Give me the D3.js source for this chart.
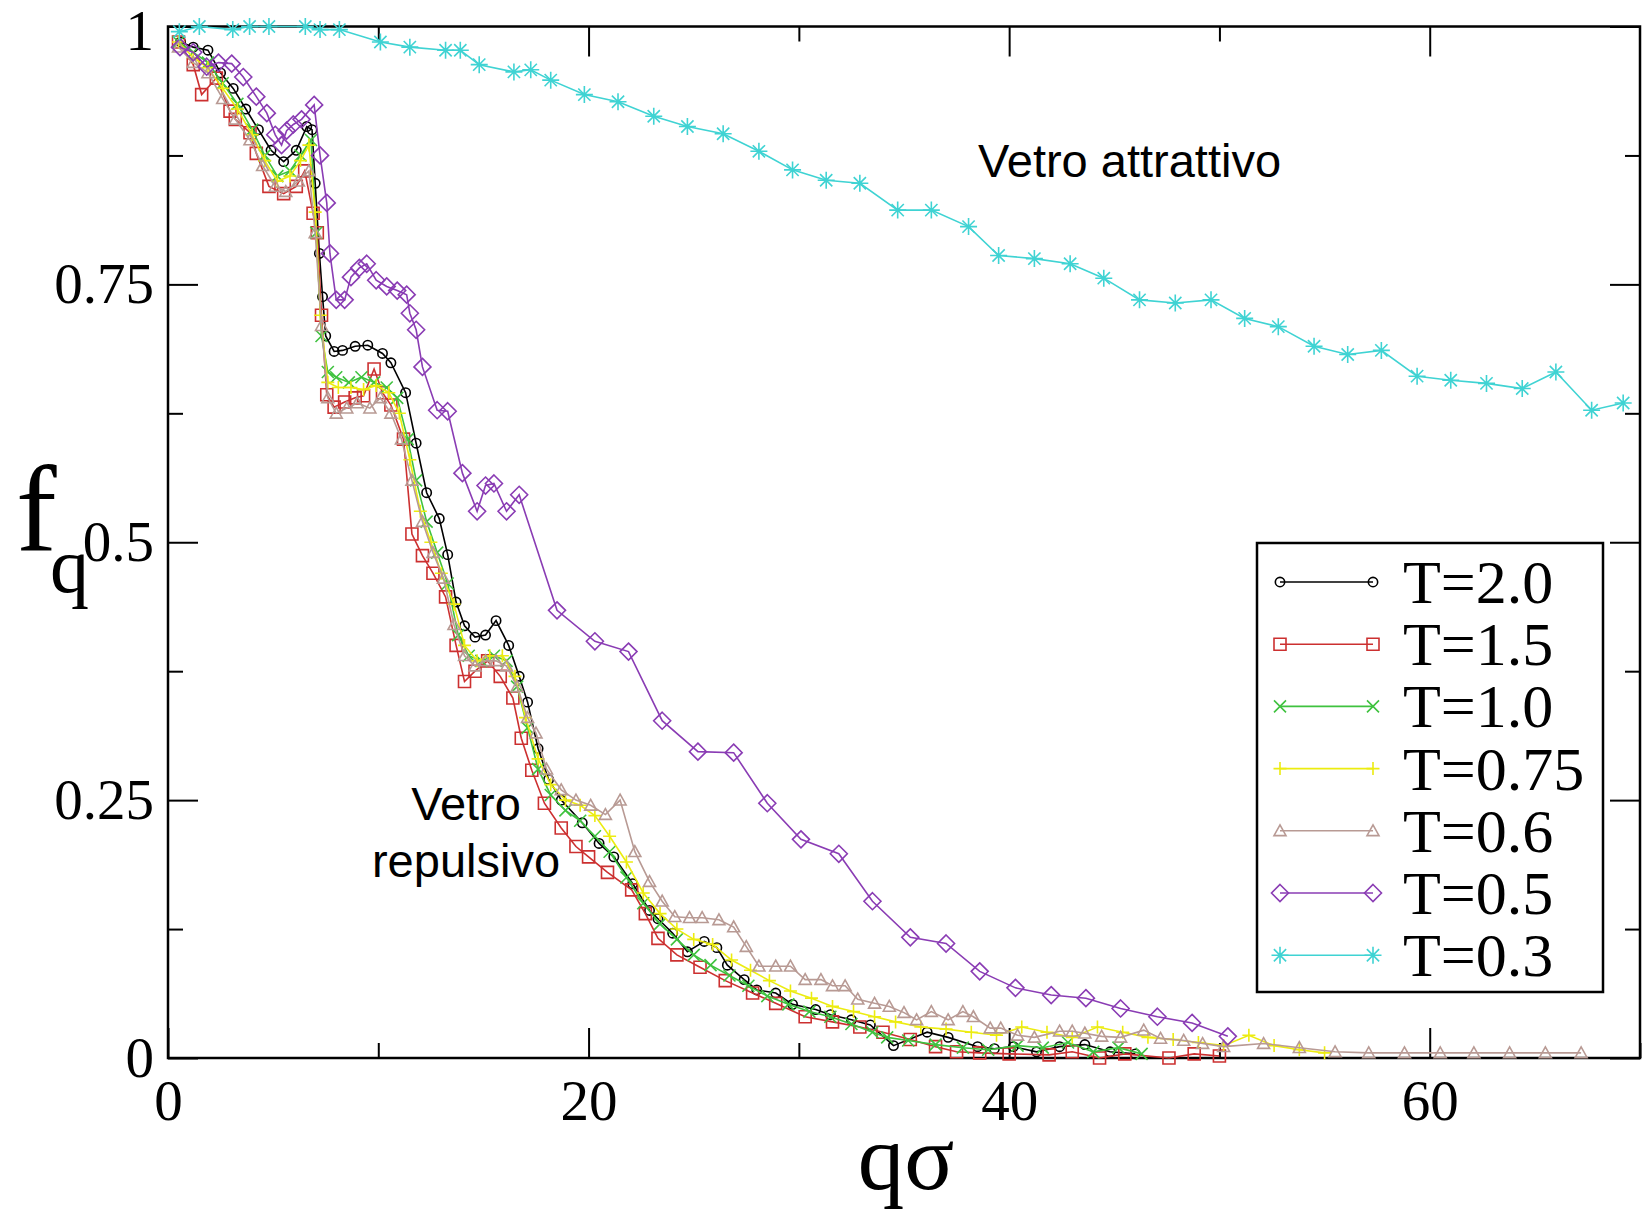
<!DOCTYPE html>
<html>
<head>
<meta charset="utf-8">
<script src="https://cdn.jsdelivr.net/npm/d3@7"></script>
<style>
  body { margin: 0; background: #fff; }
  svg { display: block; }
</style>
</head>
<body>
<div id="chart"></div>
<script>
// f_q vs q*sigma, one array per temperature, [q, f]
const t20 = [[0.6,0.985],[1.2,0.98],[1.9,0.977],[2.5,0.955],[3.1,0.94],[3.7,0.92],[4.3,0.9],[4.9,0.88],[5.5,0.869],[6.1,0.88],[6.6,0.903],[6.85,0.9],[7.0,0.848],[7.2,0.78],[7.35,0.738],[7.5,0.7],[7.9,0.685],[8.3,0.686],[8.9,0.69],[9.5,0.691],[10.2,0.683],[10.6,0.674],[11.3,0.645],[11.8,0.596],[12.3,0.548],[12.9,0.523],[13.3,0.488],[13.7,0.442],[14.1,0.419],[14.6,0.408],[15.1,0.41],[15.6,0.424],[16.2,0.4],[16.7,0.37],[17.1,0.345],[17.6,0.3],[18.1,0.27],[18.7,0.25],[19.7,0.228],[20.5,0.208],[21.2,0.195],[22.1,0.169],[22.9,0.143],[23.3,0.135],[24.0,0.121],[24.7,0.103],[25.5,0.113],[26.1,0.107],[26.6,0.09],[27.4,0.076],[28.0,0.066],[28.9,0.063],[29.7,0.052],[30.8,0.047],[31.5,0.042],[32.5,0.037],[33.4,0.032],[34.5,0.012],[36.1,0.025],[37.1,0.02],[38.5,0.011],[39.3,0.009],[40.2,0.011],[41.3,0.006],[42.4,0.011],[43.6,0.013],[44.8,0.006],[46.0,0.004]];
const t15 = [[0.5,0.985],[1.2,0.963],[1.6,0.934],[2.3,0.95],[2.95,0.918],[3.2,0.91],[3.9,0.897],[4.2,0.877],[4.8,0.845],[5.5,0.838],[6.1,0.845],[6.5,0.86],[6.9,0.819],[7.1,0.8],[7.3,0.72],[7.55,0.643],[7.9,0.631],[8.4,0.636],[8.9,0.64],[9.3,0.642],[9.8,0.668],[10.2,0.645],[10.6,0.633],[11.2,0.6],[11.6,0.508],[12.1,0.487],[12.6,0.47],[13.2,0.447],[13.7,0.4],[14.1,0.365],[14.6,0.375],[15.2,0.385],[15.8,0.37],[16.4,0.349],[16.8,0.31],[17.3,0.279],[17.9,0.247],[18.7,0.223],[19.4,0.205],[20.0,0.195],[20.9,0.18],[22.05,0.163],[22.7,0.14],[23.3,0.116],[24.2,0.1],[25.3,0.088],[26.5,0.075],[27.8,0.063],[28.9,0.053],[30.3,0.04],[31.6,0.035],[32.9,0.03],[34.0,0.025],[35.3,0.018],[36.5,0.011],[37.5,0.006],[38.6,0.005],[40.0,0.004],[41.9,0.003],[43.0,0.006],[44.3,0.0],[45.5,0.004],[47.6,0.0],[48.8,0.004],[50.0,0.002]];
const t10 = [[0.5,0.985],[1.2,0.975],[1.9,0.965],[2.6,0.945],[3.3,0.925],[4.0,0.9],[4.6,0.875],[5.2,0.855],[5.8,0.86],[6.3,0.875],[6.8,0.89],[7.05,0.8],[7.3,0.7],[7.6,0.665],[8.0,0.66],[8.6,0.655],[9.2,0.66],[9.8,0.655],[10.4,0.65],[10.9,0.64],[11.4,0.6],[11.8,0.56],[12.3,0.52],[12.8,0.49],[13.3,0.46],[13.8,0.41],[14.3,0.39],[14.9,0.385],[15.5,0.39],[16.1,0.385],[16.6,0.36],[17.1,0.32],[17.6,0.28],[18.2,0.255],[18.9,0.24],[19.6,0.23],[20.3,0.215],[21.0,0.2],[21.8,0.175],[22.6,0.15],[23.4,0.13],[24.2,0.115],[25.0,0.1],[25.8,0.09],[26.7,0.08],[27.6,0.07],[28.5,0.06],[29.5,0.052],[30.5,0.045],[31.5,0.04],[32.5,0.033],[33.5,0.025],[34.2,0.02],[35.2,0.017],[36.5,0.013],[37.8,0.01],[39.0,0.008],[40.4,0.012],[41.6,0.01],[42.8,0.015],[44.0,0.006],[45.2,0.01],[46.3,0.004]];
const t075 = [[0.5,0.985],[1.2,0.97],[1.9,0.96],[2.6,0.94],[3.3,0.92],[4.0,0.895],[4.6,0.87],[5.2,0.85],[5.8,0.855],[6.3,0.87],[6.7,0.885],[7.0,0.82],[7.25,0.72],[7.6,0.655],[8.1,0.65],[8.7,0.65],[9.3,0.648],[9.9,0.652],[10.5,0.645],[11.0,0.625],[11.5,0.58],[12.0,0.53],[12.5,0.5],[13.0,0.47],[13.6,0.44],[14.1,0.4],[14.7,0.385],[15.3,0.39],[15.9,0.39],[16.5,0.37],[17.0,0.33],[17.6,0.29],[18.2,0.265],[18.9,0.25],[19.6,0.245],[20.3,0.235],[21.0,0.215],[21.8,0.19],[22.6,0.16],[23.4,0.14],[24.2,0.125],[25.0,0.115],[25.9,0.11],[26.8,0.095],[27.7,0.085],[28.6,0.075],[29.6,0.065],[30.6,0.058],[31.6,0.05],[32.6,0.045],[33.6,0.04],[34.6,0.035],[35.8,0.03],[37.0,0.028],[38.2,0.025],[39.4,0.022],[40.6,0.03],[41.8,0.025],[43.0,0.02],[44.2,0.03],[45.4,0.025],[46.6,0.02],[47.8,0.018],[49.0,0.015],[50.2,0.012],[51.4,0.022],[52.6,0.012],[53.8,0.008],[55.0,0.005]];
const t06 = [[0.5,0.98],[1.2,0.965],[1.9,0.955],[2.6,0.93],[3.2,0.91],[3.9,0.89],[4.5,0.865],[5.1,0.845],[5.6,0.84],[6.2,0.85],[6.7,0.86],[7.0,0.8],[7.3,0.71],[7.6,0.64],[8.0,0.625],[8.5,0.63],[9.0,0.635],[9.6,0.63],[10.1,0.64],[10.6,0.625],[11.1,0.6],[11.6,0.56],[12.1,0.52],[12.6,0.49],[13.1,0.465],[13.6,0.42],[14.1,0.39],[14.6,0.38],[15.1,0.385],[15.6,0.385],[16.1,0.38],[16.6,0.36],[17.1,0.33],[17.5,0.315],[18.0,0.28],[18.7,0.26],[19.4,0.25],[20.1,0.245],[20.8,0.236],[21.5,0.25],[22.2,0.2],[22.9,0.171],[23.5,0.152],[24.1,0.137],[24.8,0.136],[25.4,0.136],[26.2,0.134],[26.9,0.127],[27.5,0.108],[28.1,0.089],[28.9,0.089],[29.6,0.089],[30.3,0.076],[31.05,0.076],[31.6,0.07],[32.2,0.07],[32.8,0.057],[33.6,0.053],[34.3,0.05],[35.0,0.044],[35.6,0.037],[36.3,0.045],[37.1,0.037],[37.8,0.045],[38.3,0.04],[39.1,0.029],[39.6,0.029],[40.4,0.022],[41.2,0.02],[42.4,0.026],[43.0,0.026],[43.6,0.024],[44.4,0.021],[45.3,0.02],[46.4,0.027],[47.2,0.019],[48.3,0.017],[49.2,0.014],[50.2,0.011],[52.1,0.014],[53.8,0.01],[55.5,0.006],[57.1,0.005],[58.8,0.005],[60.5,0.005],[62.1,0.005],[63.8,0.005],[65.5,0.005],[67.2,0.005]];
const t05 = [[0.57,0.98],[1.2,0.975],[1.84,0.961],[2.4,0.965],[3.03,0.964],[3.58,0.951],[4.2,0.932],[4.7,0.916],[5.1,0.895],[5.4,0.885],[5.64,0.899],[5.96,0.905],[6.35,0.91],[6.95,0.924],[7.23,0.875],[7.55,0.829],[7.7,0.78],[8.0,0.735],[8.4,0.735],[8.7,0.757],[9.1,0.766],[9.45,0.77],[9.9,0.754],[10.4,0.748],[10.9,0.744],[11.35,0.74],[11.5,0.722],[11.8,0.706],[12.1,0.67],[12.8,0.628],[13.3,0.627],[14.0,0.567],[14.7,0.53],[15.1,0.555],[15.5,0.557],[16.1,0.53],[16.7,0.546],[18.5,0.434],[20.3,0.404],[21.9,0.394],[23.5,0.327],[25.2,0.297],[26.9,0.296],[28.5,0.247],[30.1,0.212],[31.9,0.198],[33.5,0.152],[35.3,0.117],[37.0,0.111],[38.6,0.084],[40.3,0.068],[42.0,0.061],[43.65,0.058],[45.3,0.048],[47.05,0.04],[48.7,0.034],[50.4,0.021]];
const t03 = [[0.54,0.995],[1.49,1.0],[3.08,0.997],[3.88,1.0],[4.8,1.0],[6.53,1.0],[7.23,0.997],[8.15,0.997],[10.1,0.985],[11.5,0.98],[13.2,0.977],[13.9,0.977],[14.8,0.963],[16.45,0.956],[17.25,0.958],[18.2,0.948],[19.8,0.934],[21.4,0.927],[23.1,0.913],[24.7,0.903],[26.4,0.896],[28.1,0.879],[29.7,0.861],[31.3,0.851],[32.9,0.848],[34.7,0.822],[36.3,0.822],[38.07,0.806],[39.5,0.778],[41.2,0.775],[42.9,0.77],[44.5,0.756],[46.2,0.735],[47.9,0.732],[49.6,0.735],[51.2,0.717],[52.8,0.709],[54.5,0.69],[56.1,0.682],[57.7,0.686],[59.4,0.661],[61.0,0.657],[62.7,0.654],[64.4,0.649],[66.0,0.665],[67.7,0.628],[69.2,0.635]];

const seriesLabels = ['T=2.0', 'T=1.5', 'T=1.0', 'T=0.75', 'T=0.6', 'T=0.5', 'T=0.3'];
const seriesData = [t20, t15, t10, t075, t06, t05, t03];
const seriesColors = ['#000000', '#cc3030', '#3fc23f', '#ecec10', '#b89a94', '#8a3cb4', '#3fd3d3'];
const seriesSymbols = ['circle', 'square', 'x', 'plus', 'triangle', 'diamond', 'star'];

const xTicks = [0, 20, 40, 60];
const yTicks = [0, 0.25, 0.5, 0.75, 1];
const yTickLabels = ['0', '0.25', '0.5', '0.75', '1'];

const width = 1642, height = 1212;
const serif = '"Liberation Serif", "Times New Roman", serif';
const sans = '"Liberation Sans", Arial, sans-serif';

const x = d3.scaleLinear().domain([0, 70]).range([168, 1640]);
const y = d3.scaleLinear().domain([0, 1]).range([1058, 26.5]);

const svg = d3.select('#chart').append('svg')
    .attr('width', width)
    .attr('height', height)
    .attr('viewBox', '0 0 ' + width + ' ' + height);

svg.append('rect').attr('width', width).attr('height', height).attr('fill', '#fff');

// marker shapes as path strings centred on 0,0
function markerPath(type, s) {
    const h = s / 2;
    switch (type) {
        case 'circle': {
            const r = h * 0.85;
            return 'M' + (-r) + ',0A' + r + ',' + r + ' 0 1,0 ' + r + ',0A' + r + ',' + r + ' 0 1,0 ' + (-r) + ',0Z';
        }
        case 'square': return 'M' + (-h) + ',' + (-h) + 'H' + h + 'V' + h + 'H' + (-h) + 'Z';
        case 'x': return 'M' + (-h) + ',' + (-h) + 'L' + h + ',' + h + 'M' + (-h) + ',' + h + 'L' + h + ',' + (-h);
        case 'plus': return 'M' + (-h) + ',0H' + h + 'M0,' + (-h) + 'V' + h;
        case 'triangle': return 'M0,' + (-h) + 'L' + h + ',' + (h * 0.8) + 'H' + (-h) + 'Z';
        case 'diamond': return 'M0,' + (-h) + 'L' + h + ',0L0,' + h + 'L' + (-h) + ',0Z';
        case 'star': {
            const d = h * 0.72;
            return 'M0,' + (-h) + 'V' + h + 'M' + (-h) + ',0H' + h +
                'M' + (-d) + ',' + (-d) + 'L' + d + ',' + d + 'M' + (-d) + ',' + d + 'L' + d + ',' + (-d);
        }
    }
}
const markerSize = { circle: 11, square: 12, x: 12, plus: 13, triangle: 12, diamond: 17, star: 17 };

// axes: ticks point inwards, mirrored on top and right
const tickStyle = g => {
    g.select('.domain').remove();
    g.selectAll('.tick line').attr('stroke', '#000').attr('stroke-width', 2);
    g.selectAll('text').attr('font-family', serif).attr('font-size', 57).attr('fill', '#000');
};

svg.append('g')
    .attr('transform', 'translate(0,' + y(0) + ')')
    .call(d3.axisBottom(x).tickValues([10, 30, 50, 70]).tickSize(-15).tickFormat(''))
    .call(tickStyle);
svg.append('g')
    .attr('transform', 'translate(0,' + y(0) + ')')
    .call(d3.axisBottom(x).tickValues(xTicks).tickSize(-30).tickPadding(22).tickFormat(d3.format('d')))
    .call(tickStyle);
svg.append('g')
    .attr('transform', 'translate(0,' + y(1) + ')')
    .call(d3.axisTop(x).tickValues([10, 30, 50]).tickSize(-15).tickFormat(''))
    .call(tickStyle);
svg.append('g')
    .attr('transform', 'translate(0,' + y(1) + ')')
    .call(d3.axisTop(x).tickValues([20, 40, 60]).tickSize(-30).tickFormat(''))
    .call(tickStyle);

svg.append('g')
    .attr('transform', 'translate(' + x(0) + ',0)')
    .call(d3.axisLeft(y).tickValues([0.125, 0.375, 0.625, 0.875]).tickSize(-15).tickFormat(''))
    .call(tickStyle);
svg.append('g')
    .attr('transform', 'translate(' + x(0) + ',0)')
    .call(d3.axisLeft(y).tickValues(yTicks).tickSize(-30).tickPadding(14).tickFormat((d, i) => yTickLabels[i]))
    .call(tickStyle)
    .call(g => g.selectAll('text').filter(d => d === 1).attr('dy', '0.4em'));
svg.append('g')
    .attr('transform', 'translate(' + x(70) + ',0)')
    .call(d3.axisRight(y).tickValues([0.125, 0.375, 0.625, 0.875]).tickSize(-15).tickFormat(''))
    .call(tickStyle);
svg.append('g')
    .attr('transform', 'translate(' + x(70) + ',0)')
    .call(d3.axisRight(y).tickValues(yTicks).tickSize(-30).tickFormat(''))
    .call(tickStyle);

// frame
svg.append('rect')
    .attr('x', x(0)).attr('y', y(1))
    .attr('width', x(70) - x(0)).attr('height', y(0) - y(1))
    .attr('fill', 'none').attr('stroke', '#000').attr('stroke-width', 2.5);

// series
const line = d3.line().x(d => x(d[0])).y(d => y(d[1]));
seriesData.forEach((data, i) => {
    const g = svg.append('g').attr('class', 'series');
    g.append('path')
        .datum(data)
        .attr('d', line)
        .attr('fill', 'none')
        .attr('stroke', seriesColors[i])
        .attr('stroke-width', 1.6);
    g.selectAll('.mark')
        .data(data)
        .enter()
        .append('path')
        .attr('class', 'mark')
        .attr('transform', d => 'translate(' + x(d[0]) + ',' + y(d[1]) + ')')
        .attr('d', markerPath(seriesSymbols[i], markerSize[seriesSymbols[i]]))
        .attr('fill', 'none')
        .attr('stroke', seriesColors[i])
        .attr('stroke-width', 1.6);
});

// legend
const legend = svg.append('g').attr('id', 'legend');
legend.append('rect')
    .attr('x', 1257).attr('y', 543)
    .attr('width', 346).attr('height', 449)
    .attr('fill', '#fff').attr('stroke', '#000').attr('stroke-width', 2.5);
seriesLabels.forEach((label, i) => {
    const ly = 582 + i * 62.2;
    legend.append('line')
        .attr('x1', 1280).attr('x2', 1373).attr('y1', ly).attr('y2', ly)
        .attr('stroke', seriesColors[i]).attr('stroke-width', 1.6);
    [1280, 1373].forEach(lx => {
        legend.append('path')
            .attr('transform', 'translate(' + lx + ',' + ly + ')')
            .attr('d', markerPath(seriesSymbols[i], markerSize[seriesSymbols[i]]))
            .attr('fill', 'none').attr('stroke', seriesColors[i]).attr('stroke-width', 1.6);
    });
    legend.append('text')
        .attr('x', 1403).attr('y', ly + 21)
        .attr('font-family', serif).attr('font-size', 62)
        .text(label);
});

// axis titles
svg.append('text')
    .attr('x', 906).attr('y', 1189)
    .attr('text-anchor', 'middle')
    .attr('font-family', serif).attr('font-size', 93)
    .text('qσ');
svg.append('text')
    .attr('x', 16).attr('y', 550)
    .attr('font-family', serif).attr('font-size', 122)
    .text('f');
svg.append('text')
    .attr('x', 50).attr('y', 592)
    .attr('font-family', serif).attr('font-size', 78)
    .text('q');

// annotations
svg.append('text')
    .attr('x', 978).attr('y', 177)
    .attr('font-family', sans).attr('font-size', 47)
    .text('Vetro attrattivo');
svg.append('text')
    .attr('x', 466).attr('y', 820)
    .attr('text-anchor', 'middle')
    .attr('font-family', sans).attr('font-size', 47)
    .text('Vetro');
svg.append('text')
    .attr('x', 466).attr('y', 877)
    .attr('text-anchor', 'middle')
    .attr('font-family', sans).attr('font-size', 47)
    .text('repulsivo');
</script>
</body>
</html>
